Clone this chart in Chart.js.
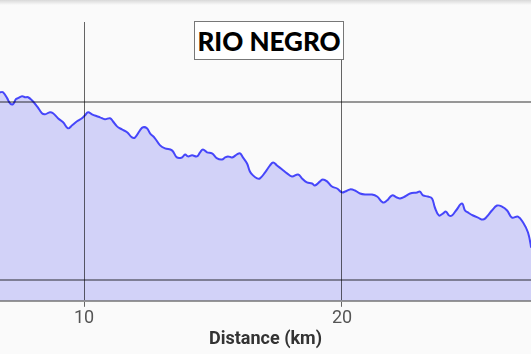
<!DOCTYPE html>
<html>
<head>
<meta charset="utf-8">
<script src="https://cdn.jsdelivr.net/npm/chart.js@4"></script>
<style>
  html, body { margin: 0; padding: 0; background: #fafafa; }
  .wrap { position: relative; width: 531px; height: 354px; }
  .shadow { position: absolute; left: 0; top: 0; width: 531px; height: 5px;
    background: linear-gradient(#d8d8d8, rgba(250,250,250,0)); }
  .title { position: absolute; left: 194px; top: 21px; width: 148px; height: 37px;
    border: 1px solid #777; background: #fff; font: 900 26px Lato, sans-serif;
    line-height: 38px; text-align: center; color: #000; white-space: nowrap; }
</style>
</head>
<body>
<div class="wrap">
  <canvas id="profile" width="531" height="354"></canvas>
  <div class="shadow"></div>
  <div class="title">RIO NEGRO</div>
</div>
<script>
// Elevation profile (km, elevation)
const distances = [6.5, 6.74, 6.86, 7.02, 7.13, 7.25, 7.36, 7.44, 7.60, 7.71, 7.83, 7.98, 8.18, 8.37, 8.49,
  8.68, 8.80, 8.99, 9.19, 9.38, 9.54, 9.73, 9.92, 10.04, 10.16, 10.31, 10.50, 10.62, 10.81, 11.01,
  11.12, 11.28, 11.47, 11.67, 11.86, 11.98, 12.17, 12.29, 12.44, 12.56, 12.75, 12.95, 13.14, 13.41,
  13.60, 13.80, 13.92, 14.03, 14.19, 14.38, 14.50, 14.61, 14.77, 14.96, 15.16, 15.35, 15.47, 15.58,
  15.74, 15.93, 16.05, 16.16, 16.32, 16.43, 16.55, 16.71, 16.82, 17.02, 17.21, 17.33, 17.48, 17.67,
  17.87, 18.06, 18.30, 18.45, 18.64, 18.84, 18.95, 19.15, 19.26, 19.42, 19.61, 19.81, 20.00, 20.12,
  20.31, 20.50, 20.70, 20.89, 21.16, 21.36, 21.59, 21.74, 21.94, 22.13, 22.25, 22.44, 22.64, 22.91,
  23.02, 23.14, 23.33, 23.49, 23.60, 23.76, 23.91, 24.03, 24.15, 24.26, 24.42, 24.65, 24.77, 24.88,
  25.08, 25.27, 25.47, 25.62, 25.81, 26.01, 26.20, 26.40, 26.59, 26.82, 27.02, 27.21, 27.33, 27.5];
const elevations = [206, 205.6, 205.6, 202.3, 199.4, 198.9, 201.7, 202.3, 203.4, 202.8, 202.8, 201.1, 197.7, 193.8, 193.2,
  194.4, 193.8, 191.0, 188.7, 185.3, 187.0, 189.3, 191.0, 192.7, 194.4, 193.2, 192.1, 191.5, 190.4, 191.0,
  189.3, 186.4, 184.7, 183.1, 180.2, 180.2, 184.2, 185.9, 185.3, 182.5, 179.7, 175.7, 174.0, 172.9,
  168.9, 168.9, 170.6, 169.5, 170.1, 169.5, 171.8, 173.4, 171.8, 171.2, 168.4, 167.8, 168.9, 169.5,
  168.9, 170.6, 171.2, 168.9, 165.5, 161.0, 158.8, 157.1, 157.1, 160.5, 164.4, 166.1, 164.4, 162.2,
  159.9, 158.2, 159.3, 157.1, 154.8, 154.2, 153.1, 155.4, 156.5, 155.4, 152.5, 151.4, 149.2, 149.7,
  150.9, 150.3, 148.6, 148.0, 148.0, 146.9, 143.5, 144.6, 147.5, 146.3, 145.8, 146.9, 148.6, 149.2,
  149.7, 147.5, 146.9, 145.8, 140.7, 136.2, 137.3, 138.4, 136.2, 136.2, 139.0, 142.9, 139.0, 137.9,
  136.2, 135.0, 133.9, 135.6, 139.0, 141.8, 141.2, 139.0, 135.0, 135.6, 132.2, 126.6, 118.1, 100];
const xTicks = [10, 20];
const yTicks = [100, 200];

const points = distances.map((d, i) => ({ x: d, y: elevations[i] }));

const ctx = document.getElementById('profile').getContext('2d');
const profileChart = new Chart(ctx, {
  type: 'line',
  data: {
    datasets: [{
      data: points,
      borderColor: '#4646fa',
      borderWidth: 2,
      backgroundColor: 'rgb(210, 210, 248)',
      fill: 'start',
      pointRadius: 0,
      tension: 0.4
    }]
  },
  options: {
    responsive: false,
    animation: false,
    layout: { padding: { top: 22, left: 0, right: 0, bottom: 4 } },
    plugins: { legend: { display: false }, tooltip: { enabled: false } },
    scales: {
      x: {
        type: 'linear',
        min: 6.744,
        max: 27.326,
        afterBuildTicks: scale => { scale.ticks = xTicks.map(v => ({ value: v })); },
        ticks: { color: '#555', font: { family: 'Roboto', size: 18 }, padding: 1 },
        // grid drawn over the filled area, like the picture
        grid: { color: 'rgba(0,0,0,0.6)', lineWidth: 1, tickLength: 6, z: 1 },
        border: { color: 'rgba(0,0,0,0.4)', width: 2, z: 1 },
        title: { display: true, text: 'Distance (km)', color: '#333',
          font: { family: 'Roboto', size: 18, weight: 'bold' }, padding: { top: -2, bottom: 0 } }
      },
      y: {
        min: 88.14,
        max: 245.2,
        afterBuildTicks: scale => { scale.ticks = yTicks.map(v => ({ value: v })); },
        afterFit: scale => { scale.width = 0; },
        ticks: { display: false },
        grid: { color: 'rgba(0,0,0,0.4)', lineWidth: 2, drawTicks: false, z: 1 },
        border: { display: false }
      }
    }
  }
});
</script>
</body>
</html>
